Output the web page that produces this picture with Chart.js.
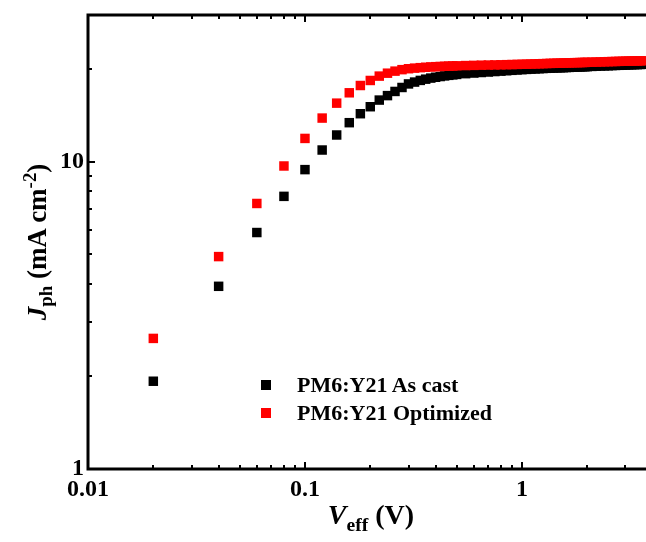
<!DOCTYPE html>
<html>
<head>
<meta charset="utf-8">
<script src="https://cdn.jsdelivr.net/npm/chart.js@4.4.0/dist/chart.umd.min.js"></script>
<style>
  body { margin: 0; background: #fff; }
  #wrap { position: relative; width: 646px; height: 542px; font-family: "Liberation Serif", "Times New Roman", serif; font-weight: bold; color: #000; }
  canvas { position: absolute; left: 0; top: 0; }
  .title { position: absolute; white-space: nowrap; text-align: center; }
  .title sub, .title sup { line-height: 0; font-size: 70%; }
  #ytitle { font-size: 27px; line-height: 30px; width: 300px; left: -113px; top: 227px; transform: rotate(-90deg); }
  #xtitle { font-size: 28px; line-height: 32px; width: 558px; left: 92px; top: 499px; }
  .leg { position: absolute; left: 297px; font-size: 22px; line-height: 22px; white-space: nowrap; }
  .leg span { position: absolute; left: -36px; top: 6px; width: 10px; height: 10px; }
</style>
</head>
<body>
<div id="wrap">
  <canvas id="chart" width="646" height="542"></canvas>
  <div id="ytitle" class="title"><i>J</i><sub>ph</sub> (mA cm<sup>-2</sup>)</div>
  <div id="xtitle" class="title"><i>V</i><sub>eff</sub> (V)</div>
  <div class="leg" style="top:374px"><span style="background:#000"></span>PM6:Y21 As cast</div>
  <div class="leg" style="top:402px"><span style="background:#ff0000"></span>PM6:Y21 Optimized</div>
</div>
<script>
// Effective voltage (V)
const veff = [
  0.02, 0.04, 0.06, 0.08, 0.10, 0.12, 0.14, 0.16, 0.18, 0.20,
  0.22, 0.24, 0.26, 0.28, 0.30, 0.32, 0.34, 0.36, 0.38, 0.40,
  0.42, 0.44, 0.46, 0.48, 0.50, 0.55, 0.60, 0.65, 0.70, 0.75,
  0.80, 0.85, 0.90, 0.95, 1.00, 1.05, 1.10, 1.15, 1.20, 1.25,
  1.30, 1.35, 1.40, 1.45, 1.50, 1.55, 1.60, 1.65, 1.70, 1.75,
  1.80, 1.85, 1.90, 1.95, 2.00, 2.1, 2.2, 2.3, 2.4, 2.5,
  2.6, 2.7, 2.8, 2.9, 3.0, 3.1, 3.2, 3.3, 3.4, 3.5, 3.6
];

// Jph (mA cm-2) as cast
const jphAsCast = [
  1.93, 3.93, 5.88, 7.71, 9.42, 10.91, 12.21, 13.39, 14.32, 15.09,
  15.86, 16.40, 16.92, 17.43, 17.90, 18.15, 18.38, 18.55, 18.70, 18.82,
  18.92, 19.01, 19.09, 19.16, 19.22, 19.33, 19.42, 19.50, 19.57, 19.64,
  19.70, 19.76, 19.82, 19.87, 19.92, 19.96, 20.00, 20.03, 20.06, 20.09,
  20.12, 20.14, 20.16, 20.18, 20.20, 20.22, 20.24, 20.26, 20.28, 20.30,
  20.32, 20.33, 20.35, 20.36, 20.38, 20.41, 20.44, 20.47, 20.49, 20.51,
  20.54, 20.56, 20.58, 20.60, 20.62, 20.64, 20.66, 20.68, 20.69, 20.71, 20.73
];

// Jph (mA cm-2) optimized
const jphOptimized = [
  2.66, 4.91, 7.31, 9.68, 11.90, 13.86, 15.50, 16.75, 17.69, 18.37,
  18.98, 19.40, 19.70, 19.92, 20.06, 20.15, 20.22, 20.28, 20.33, 20.37,
  20.40, 20.43, 20.46, 20.48, 20.50, 20.54, 20.57, 20.60, 20.62, 20.64,
  20.66, 20.68, 20.70, 20.72, 20.74, 20.76, 20.78, 20.80, 20.82, 20.84,
  20.86, 20.88, 20.89, 20.91, 20.92, 20.94, 20.95, 20.96, 20.98, 20.99,
  21.00, 21.01, 21.02, 21.03, 21.05, 21.07, 21.09, 21.11, 21.13, 21.15,
  21.17, 21.18, 21.20, 21.21, 21.23, 21.24, 21.25, 21.26, 21.27, 21.28, 21.29
];

// Tick labels
const xTickValues = [0.01, 0.1, 1];
const xTickLabels = ['0.01', '0.1', '1'];
const yTickValues = [1, 10];
const yTickLabels = ['1', '10'];

const tickFont = { family: '"Liberation Serif", "Times New Roman", serif', size: 24, weight: 'bold' };

function labelFor(values, labels) {
  return function (v) {
    const i = values.findIndex(t => Math.abs(v / t - 1) < 1e-6);
    return i >= 0 ? labels[i] : '';
  };
}

// frame and inward ticks, drawn like the origin plot
const framePlugin = {
  id: 'frame',
  afterDraw(chart) {
    const ctx = chart.ctx;
    const a = chart.chartArea;
    const xs = chart.scales.x, ys = chart.scales.y;
    ctx.save();
    ctx.strokeStyle = '#000';
    ctx.lineWidth = 3;
    ctx.beginPath();
    ctx.moveTo(a.right + 4, a.top);
    ctx.lineTo(a.left, a.top);
    ctx.lineTo(a.left, a.bottom);
    ctx.lineTo(a.right + 4, a.bottom);
    ctx.stroke();

    ctx.lineWidth = 2;
    for (let e = -2; e <= 0; e++) {
      for (let m = 1; m <= 9; m++) {
        const v = m * Math.pow(10, e);
        if (v > xs.max) break;
        const px = Math.round(xs.getPixelForValue(v));
        const len = m === 1 ? 7 : 4;
        ctx.beginPath();
        ctx.moveTo(px, a.bottom);
        ctx.lineTo(px, a.bottom - len);
        ctx.moveTo(px, a.top);
        ctx.lineTo(px, a.top + len);
        ctx.stroke();
      }
    }
    for (let e = 0; e <= 1; e++) {
      for (let m = 1; m <= 9; m++) {
        const v = m * Math.pow(10, e);
        if (v > ys.max) break;
        const py = Math.round(ys.getPixelForValue(v));
        const len = m === 1 ? 7 : 4;
        ctx.beginPath();
        ctx.moveTo(a.left, py);
        ctx.lineTo(a.left + len, py);
        ctx.stroke();
      }
    }
    ctx.restore();
  }
};

new Chart(document.getElementById('chart'), {
  type: 'scatter',
  data: {
    datasets: [
      {
        label: 'PM6:Y21 As cast',
        data: veff.map((x, i) => ({ x: x, y: jphAsCast[i] })),
        pointStyle: 'rect',
        pointRadius: 6.7,
        pointBorderWidth: 0,
        backgroundColor: '#000000',
        borderColor: '#000000',
        order: 1
      },
      {
        label: 'PM6:Y21 Optimized',
        data: veff.map((x, i) => ({ x: x, y: jphOptimized[i] })),
        pointStyle: 'rect',
        pointRadius: 6.7,
        pointBorderWidth: 0,
        backgroundColor: '#ff0000',
        borderColor: '#ff0000',
        order: 0
      }
    ]
  },
  options: {
    responsive: false,
    animation: false,
    layout: { autoPadding: false, padding: { top: 15, right: 0, left: 0, bottom: 0 } },
    plugins: { legend: { display: false }, tooltip: { enabled: false } },
    scales: {
      x: {
        type: 'logarithmic',
        min: 0.01,
        max: 3.73,
        grid: { display: false, drawTicks: false },
        border: { display: false },
        afterFit: s => { s.height = 73; s.paddingLeft = 0; s.paddingRight = 0; },
        ticks: { autoSkip: false, maxRotation: 0, padding: 6, color: '#000', font: tickFont,
                 callback: labelFor(xTickValues, xTickLabels) }
      },
      y: {
        type: 'logarithmic',
        min: 1,
        max: 30,
        grid: { display: false, drawTicks: false },
        border: { display: false },
        afterFit: s => { s.width = 88; s.paddingTop = 0; s.paddingBottom = 0; },
        ticks: { autoSkip: false, padding: 4, color: '#000', font: tickFont,
                 callback: labelFor(yTickValues, yTickLabels) }
      }
    }
  },
  plugins: [framePlugin]
});
</script>
</body>
</html>
